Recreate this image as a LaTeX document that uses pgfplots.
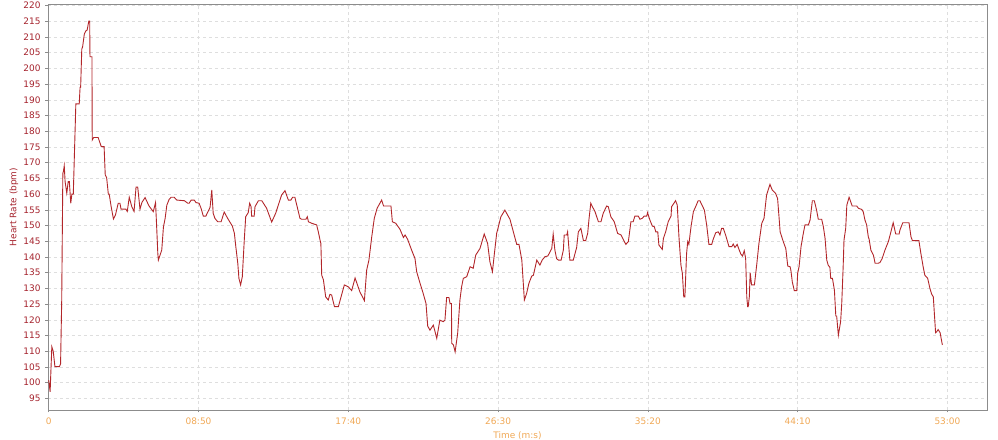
\documentclass[border=0pt]{standalone}
\usepackage{pgfplots}
\pgfplotsset{compat=1.18}
\usepackage{fontspec}
\setmainfont{DejaVu Sans}
\definecolor{hrline}{RGB}{178,38,42}
\definecolor{ylab}{RGB}{165,35,45}
\definecolor{xlab}{RGB}{240,168,85}
\definecolor{gridc}{RGB}{222,222,222}
\definecolor{axc}{RGB}{140,140,140}
\begin{document}
\begin{tikzpicture}[x=1bp,y=1bp]
\path[use as bounding box] (0,0) rectangle (998,440);
\begin{axis}[
  at={(48bp,30bp)}, anchor=south west,
  scale only axis, width=939bp, height=406bp,
  xmin=-2.5, xmax=3320, ymin=91.3, ymax=220.5,
  ytick={95,100,...,220},
  xtick={0,530,1060,1590,2120,2650,3180},
  xticklabels={0,08:50,17:40,26:30,35:20,44:10,53:00},
  /pgf/number format/assume math mode=true,
  font=\fontsize{9}{10}\selectfont,
  grid=major,
  major grid style={gridc, dashed, line width=0.6bp},
  axis line style={axc, line width=0.8bp},
  tick style={axc, line width=0.6bp},
  tick align=outside, major tick length=2.5bp,
  xtick pos=bottom, ytick pos=left,
  yticklabel style={text=ylab, anchor=east, xshift=-1.5bp},
  xticklabel style={text=xlab, anchor=north, yshift=-2bp},
  xlabel={Time (m:s)}, ylabel={Heart Rate (bpm)},
  every axis x label/.style={at={(axis description cs:0.5,0)}, anchor=center, yshift=-26bp, text=xlab},
  every axis y label/.style={at={(axis description cs:0,0.5)}, anchor=center, rotate=90, yshift=34bp, text=ylab},
  clip=true,
]
\addplot[hrline, line width=0.9bp, mark=none] table[x=t, y=hr] {
t hr
0 100.8
5 97.1
11 111.4
16 110.0
22 105.1
38 105.1
42 106.0
46 126.0
50 166.6
52 167.2
55 169.0
58 164.0
64 160.3
69 164.0
73 164.0
78 157.1
82 160.0
87 160.0
96 188.7
108 188.7
111 194.0
113 194.0
117 206.1
120 206.9
126 210.9
131 211.9
136 212.2
142 215.1
145 215.1
146 203.7
153 203.7
154 177.2
159 178.0
175 178.0
186 175.1
196 175.1
200 166.1
205 165.2
211 160.0
214 160.0
221 156.0
229 152.1
236 153.3
246 157.1
252 157.1
256 155.2
273 155.2
278 154.5
285 159.0
294 156.0
302 154.5
309 162.2
315 162.2
323 155.2
330 157.4
341 158.9
355 156.2
361 155.5
370 154.4
378 157.3
382 149.6
386 141.2
388 139.0
400 142.2
406 149.6
412 152.3
418 156.5
426 158.3
433 159.0
444 159.0
453 158.1
480 157.9
492 157.1
497 157.1
504 158.1
515 158.1
521 157.3
532 157.1
539 155.5
547 153.0
556 153.0
571 155.8
577 161.3
582 153.9
588 152.3
598 151.2
610 151.2
621 154.3
633 152.3
650 149.8
657 147.5
662 143.3
669 138.0
673 133.2
679 131.1
685 133.7
692 145.4
697 152.8
706 154.1
711 157.1
716 156.0
718 153.0
727 153.0
730 156.0
742 157.9
754 157.9
771 155.5
789 151.1
803 153.9
824 159.7
836 161.1
848 158.1
857 158.1
863 159.0
871 159.0
889 152.3
895 152.0
910 152.0
915 152.8
919 151.2
931 150.7
948 150.2
954 148.0
960 145.4
963 144.3
966 134.2
972 132.7
980 127.3
989 126.3
995 128.1
1001 127.9
1011 124.2
1025 124.2
1046 131.1
1060 130.5
1072 129.3
1084 133.3
1101 128.9
1117 126.1
1125 135.8
1133 139.0
1143 146.4
1152 152.3
1162 155.5
1178 158.1
1185 156.2
1211 156.2
1216 151.2
1228 150.7
1243 148.8
1255 146.2
1261 147.0
1270 145.6
1284 142.2
1296 139.5
1302 135.3
1314 131.6
1325 128.4
1335 125.2
1341 118.0
1349 116.7
1361 118.3
1373 114.1
1384 119.9
1396 119.4
1402 119.9
1408 127.1
1416 127.1
1420 125.2
1425 125.2
1426 112.5
1432 112.0
1438 109.8
1447 115.7
1455 126.3
1461 130.5
1467 133.2
1479 133.7
1491 136.9
1502 136.4
1511 140.6
1526 142.7
1541 147.3
1553 144.3
1561 138.5
1570 135.3
1577 141.1
1585 147.5
1600 152.8
1614 154.9
1632 152.0
1647 147.0
1656 144.0
1664 144.0
1674 139.0
1683 126.3
1691 128.4
1699 131.6
1709 133.9
1715 134.2
1727 139.0
1738 137.4
1746 139.0
1756 140.1
1766 140.3
1780 142.7
1785 147.3
1791 142.2
1797 139.5
1803 139.0
1813 139.0
1821 142.2
1824 147.0
1833 147.0
1836 148.0
1844 139.0
1856 139.0
1868 143.0
1874 148.0
1883 149.1
1892 145.2
1900 145.2
1907 147.5
1912 152.3
1918 157.1
1921 156.5
1933 154.4
1945 151.2
1954 151.2
1962 153.9
1974 156.2
1980 156.0
1989 152.8
2001 151.2
2013 147.5
2025 147.0
2033 145.6
2042 144.0
2051 144.9
2060 151.2
2068 151.2
2074 153.0
2086 153.0
2092 152.0
2100 152.3
2107 153.0
2116 153.0
2119 154.1
2127 151.8
2136 149.8
2143 149.6
2148 148.0
2155 148.0
2159 143.8
2171 142.4
2175 145.9
2183 148.0
2192 151.2
2202 153.0
2204 156.0
2218 157.9
2224 156.5
2230 146.4
2237 137.4
2242 134.8
2247 127.3
2251 127.3
2257 141.1
2261 144.9
2265 144.0
2273 149.8
2281 154.4
2289 156.0
2298 157.9
2304 157.9
2320 154.9
2328 150.2
2336 144.0
2346 144.0
2351 145.6
2360 147.7
2369 148.0
2375 147.0
2381 149.1
2387 149.1
2396 146.7
2407 143.3
2417 143.3
2422 144.1
2428 143.0
2436 144.0
2442 142.5
2449 140.9
2455 140.3
2461 142.0
2466 139.5
2470 127.3
2473 124.2
2475 124.2
2479 127.3
2482 135.0
2487 131.1
2497 131.1
2505 137.4
2513 144.3
2523 150.7
2531 152.3
2540 159.7
2552 163.1
2560 161.3
2572 160.2
2579 158.6
2584 152.8
2588 148.0
2599 144.9
2608 142.7
2615 137.1
2623 136.9
2626 135.8
2631 132.1
2638 129.3
2647 129.3
2650 134.8
2655 136.9
2662 143.3
2670 147.5
2676 150.2
2688 150.2
2694 151.8
2702 157.9
2709 157.9
2717 154.9
2723 152.0
2735 152.0
2741 149.6
2747 145.9
2753 139.0
2758 137.4
2764 136.7
2767 133.2
2773 133.2
2780 129.5
2785 121.2
2788 121.2
2794 115.1
2802 119.4
2806 125.2
2811 136.9
2814 145.4
2820 149.1
2824 156.5
2832 159.0
2843 156.2
2859 156.2
2865 155.5
2877 155.1
2882 154.4
2888 151.8
2894 150.2
2900 146.4
2903 145.6
2909 142.2
2918 140.6
2924 138.0
2935 138.0
2941 138.2
2949 139.5
2959 142.2
2971 144.9
2980 148.0
2988 150.9
2997 147.3
3009 147.3
3012 148.6
3022 150.9
3044 150.9
3051 146.4
3056 145.2
3079 145.2
3086 141.1
3094 136.9
3100 134.2
3110 133.2
3118 130.0
3124 128.2
3130 127.3
3138 115.9
3142 116.2
3147 116.9
3154 115.9
3162 112.0
};
\end{axis}
\end{tikzpicture}
\end{document}
